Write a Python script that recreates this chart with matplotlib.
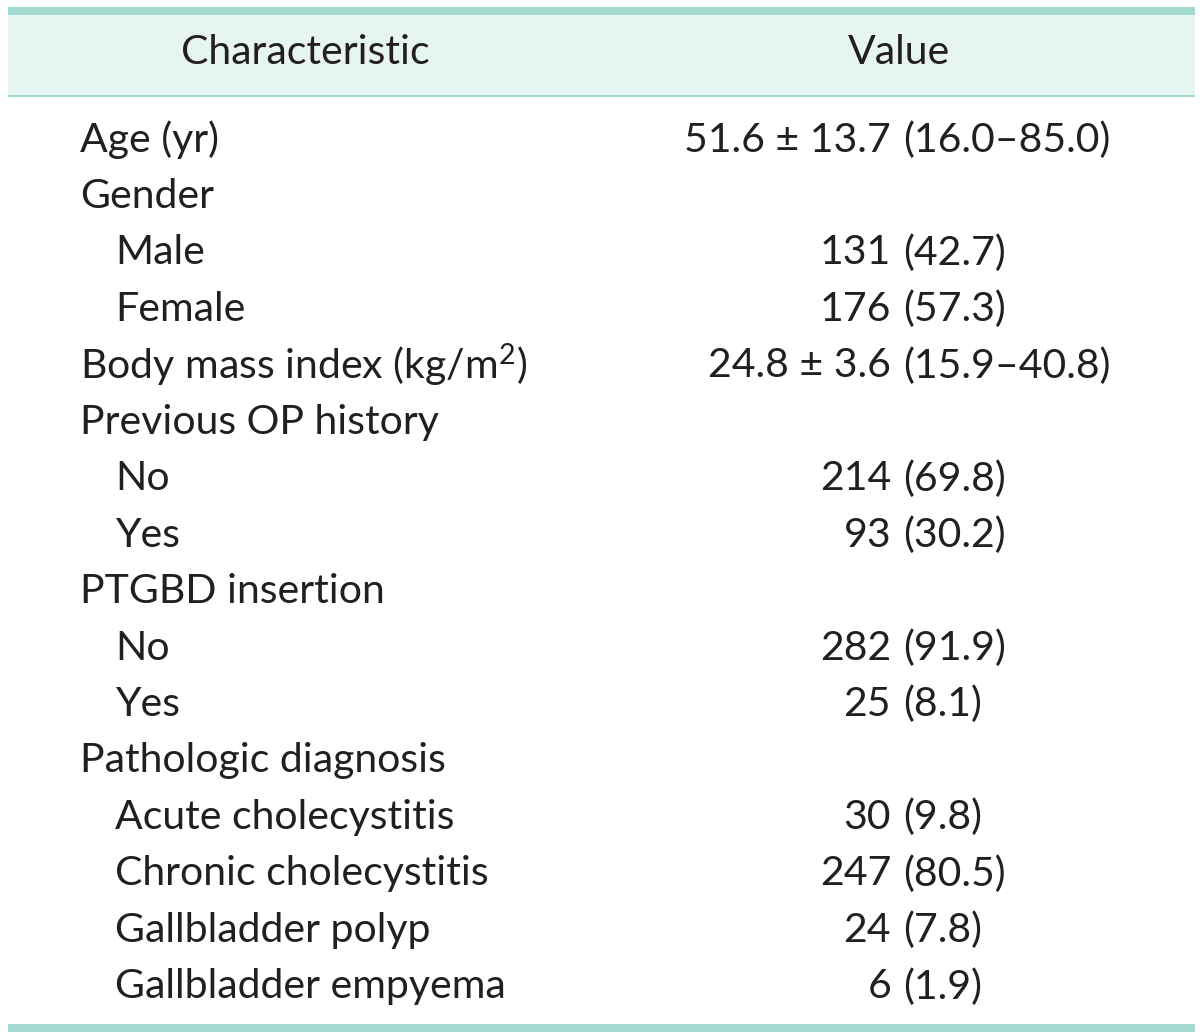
import matplotlib
matplotlib.use("Agg")
import matplotlib.pyplot as plt
from matplotlib.patches import Rectangle

plt.rcParams['mathtext.fontset'] = 'custom'
plt.rcParams['mathtext.rm'] = 'Lato'
plt.rcParams['mathtext.it'] = 'Lato'
plt.rcParams['mathtext.bf'] = 'Lato'

headers = ["Characteristic", "Value"]
labels = ["Age (yr)", "Gender", "Male", "Female", "Body mass index (kg/m$^{2}$)",
          "Previous OP history", "No", "Yes", "PTGBD insertion", "No", "Yes",
          "Pathologic diagnosis", "Acute cholecystitis", "Chronic cholecystitis",
          "Gallbladder polyp", "Gallbladder empyema"]
indent = [0, 0, 1, 1, 0, 0, 1, 1, 0, 1, 1, 0, 1, 1, 1, 1]
value_main = ["51.6 ± 13.7", "", "131", "176", "24.8 ± 3.6", "", "214", "93", "",
              "282", "25", "", "30", "247", "24", "6"]
value_paren = ["(16.0–85.0)", "", "(42.7)", "(57.3)", "(15.9–40.8)", "", "(69.8)", "(30.2)", "",
               "(91.9)", "(8.1)", "", "(9.8)", "(80.5)", "(7.8)", "(1.9)"]

W, H = 1200, 1033
fig = plt.figure(figsize=(W / 100, H / 100), dpi=100)
ax = fig.add_axes([0, 0, 1, 1])
ax.set_xlim(0, W)
ax.set_ylim(H, 0)
ax.axis('off')

teal = '#a3d9cf'
hdr_bg = '#e6f4f2'
txt = '#231f20'
font = 'Lato'
fs = 29.5

x0, x1 = 8, 1195
ax.add_patch(Rectangle((x0, 14), x1 - x0, 81, facecolor=hdr_bg, edgecolor='none'))
ax.add_patch(Rectangle((x0, 7), x1 - x0, 7.5, facecolor=teal, edgecolor='none'))
ax.add_patch(Rectangle((x0, 94.5), x1 - x0, 2, facecolor=teal, edgecolor='none'))
ax.add_patch(Rectangle((x0, 1024), x1 - x0, 7.5, facecolor=teal, edgecolor='none'))

ax.text(305, 52, headers[0], ha='center', va='center', fontsize=fs, family=font, color=txt)
ax.text(899, 52, headers[1], ha='center', va='center', fontsize=fs, family=font, color=txt)

y_start, dy = 140, 56.45
for i, lab in enumerate(labels):
    y = y_start + i * dy
    x = 115 if indent[i] else 80
    ax.text(x, y, lab, ha='left', va='center', fontsize=fs, family=font, color=txt)
    if value_main[i]:
        ax.text(891, y, value_main[i], ha='right', va='center', fontsize=fs, family=font, color=txt)
        ax.text(903, y, value_paren[i], ha='left', va='center', fontsize=fs, family=font, color=txt)

fig.savefig("out.png", dpi=100, facecolor='white')
